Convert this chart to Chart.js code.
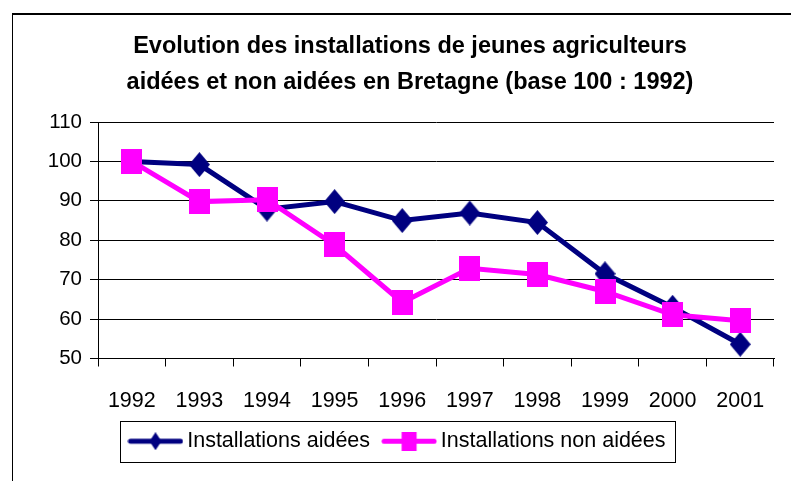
<!DOCTYPE html>
<html lang="fr">
<head>
    <meta charset="UTF-8">
    <title>Installations de jeunes agriculteurs en Bretagne</title>
    <script src="https://cdn.jsdelivr.net/npm/chart.js"></script>
    <style>
        body { margin: 0; background: #fff; }
        .wrap { position: relative; width: 791px; height: 481px; overflow: hidden; }
        /* cadre du graphique, coupé à droite et en bas */
        .frame {
            position: absolute; left: 12px; top: 13px; width: 800px; height: 500px;
            border-left: 1px solid #000; border-top: 2px solid #000;
            pointer-events: none;
        }
    </style>
</head>
<body>
<div class="wrap">
    <canvas id="chart" width="791" height="481"></canvas>
    <div class="frame"></div>
</div>
<script>
    // données (base 100 : 1992)
    const years = ["1992", "1993", "1994", "1995", "1996", "1997", "1998", "1999", "2000", "2001"];
    const aidees = [100, 99.2, 87.9, 89.8, 85.0, 86.9, 84.5, 71.5, 63.0, 53.6];
    const nonAidees = [100, 89.8, 90.3, 78.8, 64.2, 72.9, 71.3, 67.0, 61.1, 59.6];
    const seriesNames = ["Installations aidées", "Installations non aidées"];
    const titleLines = ["Evolution des installations de jeunes agriculteurs", "aidées et non aidées en Bretagne (base 100 : 1992)"];

    const NAVY = "#000080";
    const PINK = "#ff00ff";
    const FONT = "'Liberation Sans', Arial, sans-serif";

    function marker(shape, w, h, color, lineW) {
        const c = document.createElement("canvas");
        c.width = lineW || w;
        c.height = h;
        const ctx = c.getContext("2d");
        const cx = c.width / 2, cy = h / 2;
        if (lineW) {
            ctx.strokeStyle = color;
            ctx.lineWidth = 5;
            ctx.lineCap = "round";
            ctx.beginPath();
            ctx.moveTo(3, cy);
            ctx.lineTo(lineW - 3, cy);
            ctx.stroke();
        }
        ctx.fillStyle = color;
        ctx.beginPath();
        if (shape === "diamond") {
            ctx.moveTo(cx, cy - h / 2);
            ctx.lineTo(cx + w / 2, cy);
            ctx.lineTo(cx, cy + h / 2);
            ctx.lineTo(cx - w / 2, cy);
            ctx.closePath();
        } else {
            ctx.rect(cx - w / 2, cy - h / 2, w, h);
        }
        ctx.fill();
        return c;
    }

    const diamondPt = marker("diamond", 21, 25, NAVY);
    const squarePt = marker("square", 21, 25, PINK);
    const diamondLeg = marker("diamond", 12, 18, NAVY, 56);
    const squareLeg = marker("square", 15, 19, PINK, 56);

    // titre recentré sur la zone du graphique (comme dans Excel)
    const titleShift = {
        id: "titleShift",
        afterLayout(chart) {
            chart.titleBlock.left += 10;
            chart.titleBlock.right += 10;
        }
    };

    // cadre autour de la légende
    const legendBox = {
        id: "legendBox",
        afterDraw(chart) {
            const hb = chart.legend.legendHitBoxes;
            if (!hb || !hb.length) return;
            const last = hb[hb.length - 1];
            const ctx = chart.ctx;
            ctx.save();
            ctx.strokeStyle = "#000";
            ctx.lineWidth = 1;
            const l = Math.round(hb[0].left - 14) + 0.5;
            const r = Math.round(last.left + last.width + 9) + 0.5;
            const t = Math.round(hb[0].top - 10) + 0.5;
            const b = Math.round(hb[0].top + hb[0].height + 10) + 0.5;
            ctx.strokeRect(l, t, r - l, b - t);
            ctx.restore();
        }
    };

    new Chart(document.getElementById("chart"), {
        type: "line",
        data: {
            labels: years,
            datasets: [
                {
                    label: seriesNames[0], data: aidees, borderColor: NAVY, backgroundColor: NAVY,
                    borderWidth: 5, pointStyle: diamondPt, pointRadius: 10, tension: 0, order: 2
                },
                {
                    label: seriesNames[1], data: nonAidees, borderColor: PINK, backgroundColor: PINK,
                    borderWidth: 5, pointStyle: squarePt, pointRadius: 10, tension: 0, order: 1
                }
            ]
        },
        options: {
            responsive: false,
            animation: false,
            devicePixelRatio: 1,
            layout: { padding: { left: 26, right: 17, top: 0, bottom: 19 } },
            plugins: {
                tooltip: { enabled: false },
                title: {
                    display: true,
                    text: titleLines,
                    color: "#000",
                    font: { family: FONT, size: 23.5, weight: "bold", lineHeight: 36 / 23.5 },
                    padding: { top: 29, bottom: 21 }
                },
                legend: {
                    position: "bottom",
                    labels: {
                        usePointStyle: true,
                        pointStyleWidth: 42,
                        padding: 18,
                        color: "#000",
                        font: { family: FONT, size: 21.5 },
                        generateLabels: () => [
                            { text: seriesNames[0], pointStyle: diamondLeg, fillStyle: NAVY, strokeStyle: NAVY, lineWidth: 0, hidden: false, datasetIndex: 0 },
                            { text: seriesNames[1], pointStyle: squareLeg, fillStyle: PINK, strokeStyle: PINK, lineWidth: 0, hidden: false, datasetIndex: 1 }
                        ]
                    }
                }
            },
            scales: {
                x: {
                    offset: true,
                    border: { color: "#000", width: 1 },
                    grid: { offset: true, drawOnChartArea: false, drawTicks: true, tickLength: 8, color: "#000" },
                    ticks: { color: "#000", padding: 22, maxRotation: 0, font: { family: FONT, size: 21.5 } },
                    afterFit(scale) { scale.height = 54; }
                },
                y: {
                    min: 50,
                    max: 110,
                    border: { color: "#000", width: 1 },
                    grid: { color: "#000", tickLength: 8 },
                    ticks: { stepSize: 10, color: "#000", padding: 8, font: { family: FONT, size: 20.5 } },
                    afterFit(scale) { scale.width = 72; }
                }
            }
        },
        plugins: [titleShift, legendBox]
    });
</script>
</body>
</html>
